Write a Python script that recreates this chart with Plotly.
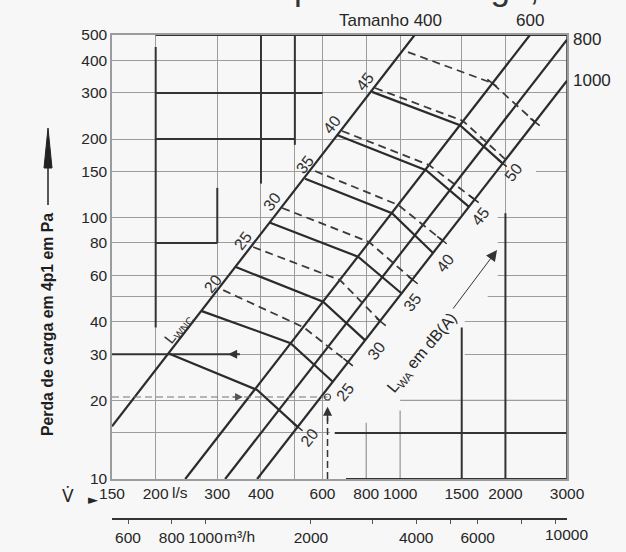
import numpy as np
import plotly.graph_objects as go

# ---------------- data ----------------
flow_ticks = [150, 200, 300, 400, 500, 600, 800, 1000, 1500, 2000, 3000]          # l/s
flow_ticktext = ['150', '200', '300', '400', '', '600', '800', '1000', '1500', '2000', '3000']
dp_ticks = [10, 15, 20, 30, 40, 50, 60, 80, 100, 150, 200, 300, 400, 500]          # Pa
dp_ticktext = ['10', '', '20', '30', '40', '', '60', '80', '100', '150', '200', '300', '400', '500']
m3h_ticks = [600, 800, 1000, 2000, 3000, 4000, 5000, 6000, 8000, 10000]            # m3/h
m3h_ticktext = ['600', '800', '1000', '2000', '', '4000', '', '6000', '', '']

# size ("Tamanho") lines: start / end points (flow l/s, pressure Pa)
size_labels = ['400', '600', '800', '1000']
size_v0 = [150, 243, 316, 390]
size_p0 = [15.9, 10, 10, 10]
size_v1 = [1100, 2350, 3000, 3000]
size_p1 = [500, 500, 480, 334]

# solid lines: L_WA in dB(A), labelled at right end
wa_levels = [20, 25, 30, 35, 40, 45, 50]
wa_v = [[217, 390, 510], [271, 486, 643], [339, 602, 793], [425, 758, 1006],
        [535, 948, 1242], [660, 1186, 1574], [831, 1483, 1956]]
wa_p = [[30.3, 21.9, 15.8], [43.9, 33.1, 23.5], [64.7, 47.7, 34.0], [95.6, 70.9, 51.5],
        [141, 104, 73.2], [207, 152, 110], [303, 226, 162]]

# dashed lines: L_WNC, labelled at left start
nc_levels = [20, 25, 30, 35, 40, 45, 50]
nc_labelled = [True, True, True, True, True, True, False]
nc_v = [[312, 529, 710], [380, 673, 882], [460, 815, 1088], [571, 988, 1317],
        [682, 1210, 1626], [848, 1513, 1995], [1053, 1832, 2430]]
nc_p = [[52.8, 38.1, 28.0], [77.2, 57.7, 39.9], [108.9, 80.7, 57.7], [150.8, 111.8, 82.1],
        [214.6, 159, 117.9], [313.4, 234.4, 167.6], [430.3, 327.6, 232.3]]

# worked example
ex_v = 620      # l/s
ex_p = 20.6     # Pa
ex_p2 = 30      # Pa (line to the L_WA 20 start)
ex_v2 = 348     # l/s, end of the 30 Pa guide

# ---------------- styling ----------------
BG = '#f7f7f7'
GRID = '#9c9c9c'
INK = '#2b2b2b'
FONT = 'Liberation Sans'
PXX = 455 / np.log10(3000 / 150)   # px per decade (x)
PXY = 444 / np.log10(500 / 10)     # px per decade (y)

fig = go.Figure()

def line_trace(xs, ys, color=INK, width=2, dash='solid', xaxis='x'):
    return go.Scatter(x=xs, y=ys, mode='lines', xaxis=xaxis,
                      line=dict(color=color, width=width, dash=dash),
                      hoverinfo='skip', showlegend=False)

def segs(list_of_pairs):
    xs, ys = [], []
    for (x0, y0, x1, y1) in list_of_pairs:
        xs += [x0, x1, None]
        ys += [y0, y1, None]
    return xs, ys

# blank band behind the right-hand labels (scan has no grid there)
mask_v = [630, 630, 1513, 1900, 1900, 1780, 1780, 1530, 1530, 3000, 3000, 630]
mask_p = [10, 22.8, 103, 103, 58, 58, 47, 47, 19.6, 19.6, 10, 10]
fig.add_trace(go.Scatter(x=mask_v, y=mask_p, fill='toself', fillcolor=BG, mode='lines',
                         line=dict(width=0, color=BG), hoverinfo='skip', showlegend=False))
fig.add_trace(go.Scatter(x=[2037, 2446, 2446, 2037, 2037], y=[134, 134, 164, 164, 134],
                         fill='toself', fillcolor=BG, mode='lines',
                         line=dict(width=0, color=BG), hoverinfo='skip', showlegend=False))

# grid pieces redrawn (light) and heavy printed pieces (dark)
light = [(1000, 20, 3000, 20), (800, 16.4, 800, 10), (1000, 18.3, 1000, 10)]
dark = [(200, 450, 200, 38), (200, 500, 3000, 500), (200, 300, 600, 300), (200, 200, 500, 200),
        (400, 500, 400, 135), (500, 500, 500, 190), (200, 80, 300, 80), (300, 130, 300, 80),
        (650, 15, 3000, 15), (1500, 38, 1500, 10), (2000, 104, 2000, 10), (700, 10, 3000, 10)]
xs, ys = segs(light)
fig.add_trace(line_trace(xs, ys, color=GRID, width=1.3))
xs, ys = segs(dark)
fig.add_trace(line_trace(xs, ys, color='#333333', width=2))
fig.add_trace(line_trace([3000, 3000], [10, 500], color='#555555', width=1.8))

# size lines
xs, ys = segs([(size_v0[i], size_p0[i], size_v1[i], size_p1[i]) for i in range(len(size_labels))])
fig.add_trace(line_trace(xs, ys, width=2.2))

# solid L_WA lines
for v, p in zip(wa_v, wa_p):
    fig.add_trace(line_trace(v, p, width=2.2))

# dashed L_WNC lines
for v, p in zip(nc_v, nc_p):
    fig.add_trace(line_trace(v, p, color='#3a3a3a', width=1.8, dash='8px,5px'))

# small cross ticks on the last size line at the dashed ends
n_d = np.log10(size_p1[3] / size_p0[3]) / np.log10(size_v1[3] / size_v0[3])
ux, uy = n_d * PXY, -PXX
norm = np.hypot(ux, uy)
ux, uy = ux / norm, uy / norm
def tick(v, p, half=6):
    dv = 10 ** (ux * half / PXX)
    dp = 10 ** (uy * half / PXY)
    return (v / dv, p / dp, v * dv, p * dp)
tick_pts = [(nc_v[i][2], nc_p[i][2]) for i in range(len(nc_levels)) if i != 5]
tick_pts += [(wa_v[0][2], wa_p[0][2]), (wa_v[6][2], wa_p[6][2]), (nc_v[6][1], nc_p[6][1])]
xs, ys = segs([tick(v, p) for v, p in tick_pts])
fig.add_trace(line_trace(xs, ys, width=1.5))

# worked example guides
fig.add_trace(line_trace([150, ex_v2], [ex_p2, ex_p2], color='#333333', width=2))
fig.add_trace(line_trace([150, ex_v], [ex_p, ex_p], color='#777777', width=1.2, dash='7px,4px'))
fig.add_trace(line_trace([ex_v, ex_v], [10, 17.8], color='#333333', width=1.5, dash='7px,4px'))
fig.add_trace(go.Scatter(x=[ex_v], y=[ex_p], mode='markers',
                         marker=dict(symbol='circle-open', size=6, color='#444', line=dict(width=1.2)),
                         hoverinfo='skip', showlegend=False))

# dummy trace to realise the m3/h axis
fig.add_trace(go.Scatter(x=[1000], y=[100], xaxis='x2', mode='markers',
                         marker=dict(opacity=0), hoverinfo='skip', showlegend=False))

ann = []
L10 = np.log10
def A(**kw):
    base = dict(showarrow=False, xanchor='center', yanchor='middle',
                font=dict(family=FONT, size=15.5, color='#262626'))
    base.update(kw)
    ann.append(base)

# size labels
A(text='Tamanho 400', x=L10(size_v1[0]), y=L10(size_p1[0]), xref='x', yref='y',
  xanchor='right', yanchor='bottom', xshift=29, yshift=3, font=dict(family=FONT, size=17, color='#262626'))
A(text=size_labels[1], x=L10(size_v1[1]), y=L10(size_p1[1]), xref='x', yref='y',
  xanchor='center', yanchor='bottom', yshift=3, font=dict(family=FONT, size=17, color='#262626'))
A(text=size_labels[2], x=L10(size_v1[2]), y=L10(size_p1[2]), xref='x', yref='y',
  xanchor='left', yanchor='middle', xshift=4, font=dict(family=FONT, size=17, color='#262626'))
A(text=size_labels[3], x=L10(size_v1[3]), y=L10(size_p1[3]), xref='x', yref='y',
  xanchor='left', yanchor='middle', xshift=4, font=dict(family=FONT, size=17, color='#262626'))

# L_WA labels (right ends of solid lines)
for lvl, v, p in zip(wa_levels, wa_v, wa_p):
    A(text=str(lvl), x=L10(v[2]), y=L10(p[2]), xref='x', yref='y', textangle=-52,
      xshift=11.5, yshift=-10, font=dict(family=FONT, size=16, color='#303030'))
# L_WNC labels (left starts of dashed lines)
for lvl, v, p, lab in zip(nc_levels, nc_v, nc_p, nc_labelled):
    if lab:
        A(text=str(lvl), x=L10(v[0]), y=L10(p[0]), xref='x', yref='y', textangle=-52,
          xshift=-10, yshift=6.5, font=dict(family=FONT, size=16, color='#303030'))

A(text='L<sub>WNC</sub>', x=L10(232), y=L10(37.8), xref='x', yref='y', textangle=-52,
  font=dict(family=FONT, size=15, color='#303030'))
A(text='L<sub>WA</sub> em dB(A)', x=L10(1155), y=L10(30.3), xref='x', yref='y', textangle=-50,
  font=dict(family=FONT, size=16, color='#262626'))
ann.append(dict(x=L10(1893), y=L10(75.2), ax=L10(1407), ay=L10(44.3), xref='x', yref='y',
                axref='x', ayref='y', showarrow=True, arrowhead=2, arrowsize=2.2,
                arrowwidth=1, arrowcolor='#333', text=''))

# example arrowheads
ann.append(dict(x=L10(322), y=L10(ex_p2), ax=12, ay=0, xref='x', yref='y', showarrow=True,
                arrowhead=2, arrowsize=1.3, arrowwidth=1.4, arrowcolor='#333', text=''))
ann.append(dict(x=L10(355), y=L10(ex_p), ax=-12, ay=0, xref='x', yref='y', showarrow=True,
                arrowhead=2, arrowsize=1.3, arrowwidth=1.2, arrowcolor='#555', text=''))
ann.append(dict(x=L10(ex_v), y=L10(18.9), ax=0, ay=16, xref='x', yref='y', showarrow=True,
                arrowhead=2, arrowsize=1.3, arrowwidth=1.4, arrowcolor='#333', text=''))

# axis unit texts
def py2paper(py):
    return (519 - py) / 484
def px2paper(px):
    return (px - 112) / 455
A(text='l/s', x=L10(200), y=py2paper(492), xref='x', yref='paper', xanchor='left', xshift=14)
A(text='m³/h', x=L10(1000), y=py2paper(536), xref='x2', yref='paper', xanchor='left', xshift=16)
A(text='10000', x=L10(10000), y=py2paper(534), xref='x2', yref='paper', xshift=11)
A(text='V\u0307', x=px2paper(68), y=py2paper(496), xref='paper', yref='paper',
  font=dict(family='DejaVu Sans', size=17, color='#262626'))
A(text='\u25ba', x=px2paper(93), y=py2paper(499), xref='paper', yref='paper',
  font=dict(family='DejaVu Sans', size=13, color='#262626'))
A(text='<b>Perda de carga em 4p1 em Pa</b>', x=px2paper(47), y=py2paper(325),
  xref='paper', yref='paper', textangle=-90,
  font=dict(family='Liberation Sans', size=15.8, color='#1e1e1e'))
# partially cut heading at the top of the scan
A(text='perda de carga,', x=px2paper(292), y=1, xref='paper', yref='paper',
  xanchor='left', yanchor='bottom', yshift=26,
  font=dict(family='Liberation Sans', size=35, color='#333'))

shapes = [
    dict(type='line', xref='paper', yref='paper', x0=px2paper(48), x1=px2paper(48),
         y0=py2paper(205), y1=py2paper(160), line=dict(color='#222', width=1.5)),
    dict(type='path', xref='paper', yref='paper',
         path=f'M {px2paper(48)},{py2paper(128)} L {px2paper(44)},{py2paper(168)} '
              f'L {px2paper(52)},{py2paper(168)} Z',
         fillcolor='#222', line=dict(color='#222', width=1)),
]

axfont = dict(family=FONT, size=15.5, color='#262626')
fig.update_layout(
    width=626, height=552, margin=dict(l=112, r=59, t=35, b=33, autoexpand=False),
    paper_bgcolor=BG, plot_bgcolor=BG, showlegend=False, hovermode=False,
    font=dict(family=FONT, size=15.5, color='#262626'),
    xaxis=dict(type='log', range=[L10(150), L10(3000)], tickvals=flow_ticks, ticktext=flow_ticktext,
               showgrid=True, gridcolor=GRID, gridwidth=1.3, showline=True, linecolor=GRID,
               linewidth=1.5, mirror=True, ticks='', zeroline=False, anchor='y', tickfont=axfont,
               tickangle=0, automargin=False),
    yaxis=dict(type='log', range=[1, L10(500)], domain=[40 / 484, 1], tickvals=dp_ticks,
               ticktext=dp_ticktext, showgrid=True, gridcolor=GRID, gridwidth=1.3, showline=True,
               linecolor=GRID, linewidth=1.5, mirror=True, ticks='', zeroline=False, tickfont=axfont,
               automargin=False),
    xaxis2=dict(type='log', overlaying='x', anchor='free', position=0, side='bottom',
                range=[L10(540), L10(10800)], tickvals=m3h_ticks, ticktext=m3h_ticktext,
                ticks='outside', ticklen=4, tickcolor='#555', showline=True, linecolor='#333',
                linewidth=2, showgrid=False, zeroline=False, tickfont=axfont, tickangle=0,
                automargin=False),
    annotations=ann, shapes=shapes,
)

fig.write_html('out.html')
